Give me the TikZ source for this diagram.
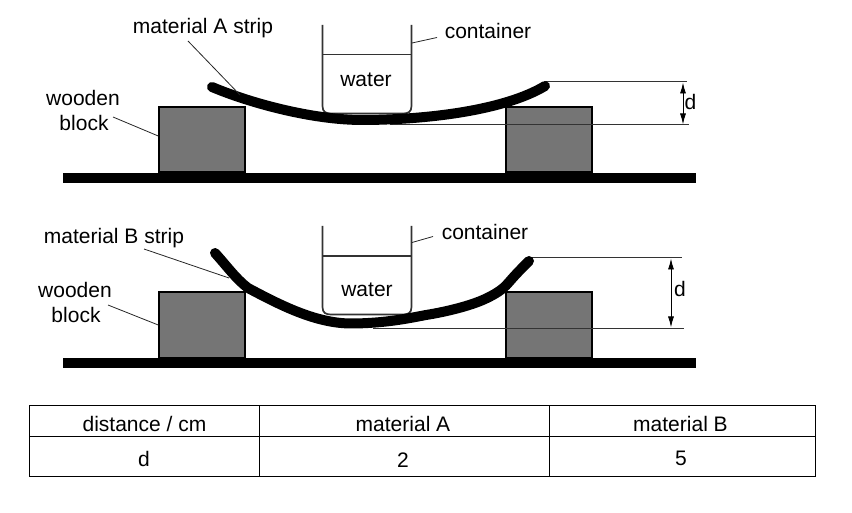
\documentclass[tikz,border=0pt]{standalone}
\usepackage{fontspec}
\setmainfont{Liberation Sans}
\usetikzlibrary{arrows.meta}
\tikzset{
  x=1pt,y=-1pt,
  lbl/.style={inner sep=0pt,anchor=base,font=\fontsize{21}{24}\selectfont,text=black},
  blockbox/.style={draw=black,fill=black!54,line width=2pt,inner sep=0pt,minimum width=85.5pt,minimum height=65pt},
  basebar/.style={fill=black,inner sep=0pt,minimum width=633pt,minimum height=10pt},
  strip/.style={line width=10pt,line cap=round,line join=round,draw=black},
  glass/.style={draw=black!80,line width=1.7pt},
  lead/.style={draw=black!85,line width=.8pt},
  dline/.style={draw=black!80,line width=1pt},
  darrow/.style={draw=black,line width=.9pt,{Latex[length=11pt,width=6pt]}-{Latex[length=11pt,width=6pt]}},
  cellline/.style={draw=black,line width=.9pt}
}
\begin{document}
\begin{tikzpicture}
\useasboundingbox (0,0) rectangle (852,513);
% ---- upper setup
\node[basebar] (baseA) at (379.5,178) {};
\node[blockbox] (blockAL) at (202,140) {};
\node[blockbox] (blockAR) at (549,140) {};
\coordinate (cAtl) at (322.5,25); \coordinate (cAtr) at (411.5,25);
\coordinate (wAl) at (322.5,54.5); \coordinate (wAr) at (411.5,54.5);
\draw[glass] (cAtl) -- (322.5,106) .. controls (322.5,112) and (326,113.5) .. (331,113.5) -- (403,113.5) .. controls (408,113.5) and (411.5,112) .. (411.5,106) -- (cAtr);
\draw[glass] (wAl) -- (wAr);
\coordinate (dAt0) at (544,82); \coordinate (dAt1) at (687,82);
\coordinate (dAb0) at (390,125); \coordinate (dAb1) at (689,125);
\draw[dline] (dAt0) -- (dAt1);
\draw[dline] (dAb0) -- (dAb1);
\coordinate (arAt) at (683,82.5); \coordinate (arAb) at (683,124.5);
\draw[darrow] (arAt) -- (arAb);
\coordinate (sA0) at (212,87); \coordinate (sA1) at (545,86);
\draw[strip] (sA0) .. controls (245,101) and (310,120.5) .. (365,120) .. controls (430,119.5) and (505,110) .. (sA1);
\node[lbl] (tAstrip) at (203,33.5) {material A strip};
\node[lbl] (tAw1) at (83,106) {wooden};
\node[lbl] (tAw2) at (84,131) {block};
\node[lbl] (tAc) at (488,39) {container};
\node[lbl] (tAwater) at (366,87) {water};
\node[lbl] (tAd) at (690.5,110) {d};
\coordinate (lA1a) at (188,41); \coordinate (lA1b) at (240,95);
\draw[lead] (lA1a) -- (lA1b);
\coordinate (lA2a) at (113,117);
\draw[lead] (lA2a) -- (blockAL.west |- 0,136);
\coordinate (lA3a) at (412,43); \coordinate (lA3b) at (437,37.5);
\draw[lead] (lA3a) -- (lA3b);
% ---- lower setup
\node[basebar] (baseB) at (379.5,363) {};
\node[blockbox] (blockBL) at (202,325) {};
\node[blockbox] (blockBR) at (549,325) {};
\coordinate (cBtl) at (322.5,226); \coordinate (cBtr) at (411.5,226);
\coordinate (wBl) at (322.5,256); \coordinate (wBr) at (411.5,256);
\draw[glass] (cBtl) -- (322.5,307) .. controls (322.5,313) and (326,314.5) .. (331,314.5) -- (403,314.5) .. controls (408,314.5) and (411.5,313) .. (411.5,307) -- (cBtr);
\draw[glass] (wBl) -- (wBr);
\coordinate (dBt0) at (530,258); \coordinate (dBt1) at (682,258);
\coordinate (dBb0) at (373,328); \coordinate (dBb1) at (684,328);
\draw[dline] (dBt0) -- (dBt1);
\draw[dline] (dBb0) -- (dBb1);
\coordinate (arBt) at (671,258.5); \coordinate (arBb) at (671,327.5);
\draw[darrow] (arBt) -- (arBb);
\coordinate (sB0) at (215,253); \coordinate (sB1) at (529,261);
\draw[strip] (sB0) .. controls (226,265) and (236,279) .. (248,288) .. controls (280,305) and (315,323) .. (350,323.5) .. controls (385,323.5) and (410,318) .. (426,315) .. controls (445,312) and (470,306) .. (485,299) .. controls (500,292) and (505,287) .. (510,281) .. controls (516,274) and (522,268) .. (sB1);
\node[lbl] (tBstrip) at (114,244) {material B strip};
\node[lbl] (tBw1) at (75,298) {wooden};
\node[lbl] (tBw2) at (76,323) {block};
\node[lbl] (tBc) at (485,240) {container};
\node[lbl] (tBwater) at (367,297) {water};
\node[lbl] (tBd) at (680,297) {d};
\coordinate (lB1a) at (144,249); \coordinate (lB1b) at (229,278);
\draw[lead] (lB1a) -- (lB1b);
\coordinate (lB2a) at (108,305);
\draw[lead] (lB2a) -- (blockBL.west |- 0,325);
\coordinate (lB3a) at (412,242.5); \coordinate (lB3b) at (433,236.5);
\draw[lead] (lB3a) -- (lB3b);
% ---- table
\coordinate (t00) at (29,405.5); \coordinate (t11) at (815,476);
\draw[cellline] (t00) rectangle (t11);
\coordinate (tm0) at (29,436); \coordinate (tm1) at (815,436);
\draw[cellline] (tm0) -- (tm1);
\coordinate (tv0) at (259,405.5); \coordinate (tv1) at (259,476);
\draw[cellline] (tv0) -- (tv1);
\coordinate (tw0) at (549,405.5); \coordinate (tw1) at (549,476);
\draw[cellline] (tw0) -- (tw1);
\node[lbl] (h1) at (144.5,431) {distance / cm};
\node[lbl] (h2) at (403,431) {material A};
\node[lbl] (h3) at (680.5,431) {material B};
\node[lbl] (r1) at (144,466) {d};
\node[lbl] (r2) at (403,467) {2};
\node[lbl] (r3) at (681,465.5) {5};
\end{tikzpicture}
\end{document}
